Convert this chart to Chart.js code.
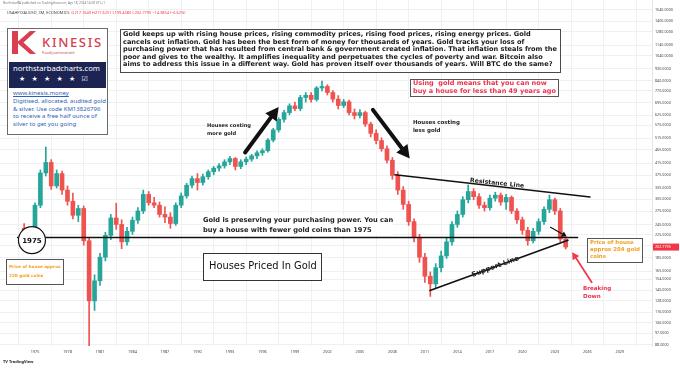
<!DOCTYPE html>
<html>
<head>
<meta charset="utf-8">
<title>Houses Priced In Gold</title>
<script src="https://cdn.jsdelivr.net/npm/chart.js@4.4.1/dist/chart.umd.min.js"></script>
<style>
  html, body { margin: 0; padding: 0; background: #fff; }
  #wrap { position: relative; width: 680px; height: 368px; overflow: hidden; }
  #chart { position: absolute; left: 0; top: 0; }
  .lbl { position: absolute; white-space: pre; display: inline-block; }
  .frame { position: absolute; background: #fff; box-sizing: border-box; }
  .note { font-family: "DejaVu Sans", sans-serif; font-weight: bold; }
</style>
</head>
<body>
<div id="wrap">
  <canvas id="chart" width="680" height="368"></canvas>

  <!-- header -->
  <div class="lbl" style="left:3px; top:1px; font:3.1px 'Noto Sans'; color:#777;">NorthstarRA published on TradingView.com, Apr 18, 2024 14:38 UTC+1</div>
  <div class="lbl" style="left:7px; top:10px; font:3.9px 'Noto Sans'; color:#444;">USAHP/XAUUSD, 3M, ECONOMICS  <span style="color:#f23645">O217.1649 H217.6251 L199.4380 C202.7795 −14.3854 (−6.62%)</span></div>

  <!-- sponsor box -->
  <div class="frame" style="left:7px; top:28px; width:101px; height:107px; border:1px solid #6b6b6b;"></div>
  <svg style="position:absolute; left:12px; top:31px;" width="24" height="23" viewBox="0 0 24 23">
    <path d="M0 0h6v23H0z M6 10.5 L18 0 H24 L11.5 11.5 L24 23 H18 L6 12.5 Z" fill="#d8404f"/>
  </svg>
  <div class="lbl" data-w="63" style="left:42px; top:36px; font:500 11px 'Noto Sans'; letter-spacing:1.6px; color:#d8404f; line-height:12px;">KINESIS</div>
  <div class="lbl" style="left:42px; top:51px; font:3px 'Noto Sans'; color:#c0404f;">Proudly partnered with</div>
  <div class="frame" style="left:9px; top:62px; width:97px; height:26px; background:#1b2452;"></div>
  <div class="lbl" data-w="87" style="left:13px; top:64px; font:7px 'Noto Sans'; color:#fff; line-height:9px;">northstarbadcharts.com</div>
  <div class="lbl" style="left:19px; top:75px; font:7px 'DejaVu Sans'; color:#fff; letter-spacing:6.2px; line-height:9px;">★★★★★☑</div>
  <div class="lbl" data-w="93" style="left:13px; top:90px; font:5.3px 'Noto Sans'; color:#2f5fb8; line-height:7.8px;"><span style="text-decoration:underline">www.kinesis.money</span>
Digitised, allocated, audited gold
&amp; silver. Use code KM13826796
to receive a free half ounce of
silver to get you going</div>

  <!-- main text -->
  <div class="frame" style="left:120px; top:29px; width:441px; height:44px; border:1.4px solid #4a4a4a;"></div>
  <div class="lbl note" data-w="435" style="left:123px; top:31px; font-size:6px; line-height:7.6px; color:#1a1a1a;">Gold keeps up with rising house prices, rising commodity prices, rising food prices, rising energy prices. Gold
cancels out inflation. Gold has been the best form of money for thousands of years. Gold tracks your loss of
purchasing power that has resulted from central bank &amp; government created inflation. That inflation steals from the
poor and gives to the wealthy. It amplifies inequality and perpetuates the cycles of poverty and war. Bitcoin also
aims to address this issue in a different way. Gold has proven itself over thousands of years. Will BTC do the same?</div>

  <div class="frame" style="left:410px; top:79px; width:149px; height:18px; border:1.2px solid #555;"></div>
  <div class="lbl note" data-w="143" style="left:413px; top:80px; font-size:6.4px; line-height:7.8px; color:#e8344e;">Using  gold means that you can now
buy a house for less than 49 years ago</div>

  <div class="lbl note" data-w="44" style="left:207px; top:121px; font-size:5.5px; line-height:8px; color:#222;">Houses costing
more gold</div>
  <div class="lbl note" data-w="47" style="left:413px; top:119px; font-size:5.5px; line-height:7.5px; color:#222;">Houses costing
less gold</div>

  <div class="lbl note" data-w="190" style="left:203px; top:215px; font-size:6.6px; line-height:10px; color:#222; background:#fff;">Gold is preserving your purchasing power. You can
buy a house with fewer gold coins than 1975</div>

  <div class="frame" style="left:203px; top:253px; width:119px; height:28px; border:1.2px solid #333;"></div>
  <div class="lbl" data-w="108" style="left:209px; top:259px; font:10px 'DejaVu Sans'; line-height:14px; color:#111;">Houses Priced In Gold</div>

  <div class="frame" style="left:6px; top:259px; width:58px; height:26px; border:1.2px solid #555;"></div>
  <div class="lbl note" data-w="52" style="left:9px; top:262px; font-size:5.5px; line-height:9px; color:#f0a020;">Price of house approx
220 gold coins</div>

  <div class="frame" style="left:587px; top:238px; width:56px; height:25px; border:1.2px solid #555;"></div>
  <div class="lbl note" data-w="50" style="left:590px; top:239px; font-size:5.5px; line-height:7.2px; color:#f0a020;">Price of house
approx 204 gold
coins</div>

  <div class="lbl note" style="left:583px; top:284px; font-size:5.6px; line-height:8px; color:#e8344e;">Breaking
Down</div>

  <div class="lbl note" data-w="55" style="left:470px; top:176px; font-size:6px; line-height:8px; color:#222; transform:rotate(6deg); transform-origin:left center;">Resistance Line</div>
  <div class="lbl note" data-w="50" style="left:472px; top:271px; font-size:7px; line-height:9px; color:#222; transform:rotate(-20deg); transform-origin:left center;">Support Line</div>

  <div class="lbl" style="left:3px; top:359px; font:bold 4px 'Noto Sans'; color:#222;">TV TradingView</div>
</div>

<script>
// half-yearly candles, ounces of gold per house
const years = [1974.0, 1974.5, 1975.0, 1975.5, 1976.0, 1976.5, 1977.0, 1977.5, 1978.0, 1978.5,
  1979.0, 1979.5, 1980.0, 1980.5, 1981.0, 1981.5, 1982.0, 1982.5, 1983.0, 1983.5,
  1984.0, 1984.5, 1985.0, 1985.5, 1986.0, 1986.5, 1987.0, 1987.5, 1988.0, 1988.5,
  1989.0, 1989.5, 1990.0, 1990.5, 1991.0, 1991.5, 1992.0, 1992.5, 1993.0, 1993.5,
  1994.0, 1994.5, 1995.0, 1995.5, 1996.0, 1996.5, 1997.0, 1997.5, 1998.0, 1998.5,
  1999.0, 1999.5, 2000.0, 2000.5, 2001.0, 2001.5, 2002.0, 2002.5, 2003.0, 2003.5,
  2004.0, 2004.5, 2005.0, 2005.5, 2006.0, 2006.5, 2007.0, 2007.5, 2008.0, 2008.5,
  2009.0, 2009.5, 2010.0, 2010.5, 2011.0, 2011.5, 2012.0, 2012.5, 2013.0, 2013.5,
  2014.0, 2014.5, 2015.0, 2015.5, 2016.0, 2016.5, 2017.0, 2017.5, 2018.0, 2018.5,
  2019.0, 2019.5, 2020.0, 2020.5, 2021.0, 2021.5, 2022.0, 2022.5, 2023.0, 2023.5,
  2024.0];
const opens = [238, 228, 220, 290, 382, 418, 342, 380, 330, 300,
  266, 282, 214, 128, 152, 186, 224, 260, 246, 212,
  232, 255, 276, 318, 296, 290, 268, 262, 248, 290,
  314, 344, 364, 352, 370, 386, 398, 406, 420, 432,
  404, 420, 430, 442, 454, 462, 506, 552, 604, 640,
  678, 662, 728, 742, 716, 790, 800, 760, 718, 680,
  702, 640, 624, 640, 580, 536, 504, 470, 426, 374,
  330, 292, 252, 220, 186, 158, 148, 170, 188, 212,
  246, 268, 304, 326, 312, 290, 284, 308, 316, 298,
  310, 276, 256, 234, 214, 232, 252, 280, 304, 276,
  217.1649];
const highs = [248, 234, 296, 392, 477, 428, 392, 388, 342, 322,
  290, 288, 220, 160, 192, 230, 268, 295, 256, 240,
  262, 284, 330, 326, 310, 298, 286, 272, 296, 322,
  350, 372, 380, 378, 392, 404, 414, 428, 440, 436,
  428, 438, 448, 462, 470, 512, 560, 612, 652, 690,
  700, 742, 760, 760, 800, 838, 812, 772, 740, 716,
  712, 660, 656, 648, 590, 552, 516, 482, 436, 386,
  340, 300, 258, 226, 192, 164, 176, 196, 220, 252,
  276, 312, 345, 334, 320, 298, 316, 324, 322, 318,
  314, 282, 262, 240, 238, 258, 286, 316, 308, 282,
  217.6251];
const lows = [226, 214, 216, 284, 372, 332, 336, 318, 290, 258,
  252, 206, 87, 118, 146, 180, 216, 236, 200, 206,
  226, 248, 270, 290, 284, 262, 250, 238, 244, 284,
  308, 336, 330, 344, 362, 376, 388, 398, 410, 392,
  396, 410, 422, 432, 444, 456, 498, 542, 590, 628,
  650, 650, 700, 700, 706, 770, 744, 700, 660, 668,
  628, 606, 612, 568, 520, 490, 460, 416, 362, 318,
  280, 244, 212, 178, 150, 133, 142, 164, 184, 206,
  240, 262, 296, 304, 282, 276, 278, 300, 290, 280,
  270, 248, 226, 206, 210, 226, 246, 272, 268, 212,
  199.438];
const closes = [228, 220, 290, 382, 418, 342, 380, 330, 300, 266,
  282, 214, 128, 152, 186, 224, 260, 246, 212, 232,
  255, 276, 318, 296, 290, 268, 262, 248, 290, 314,
  344, 364, 352, 370, 386, 398, 406, 420, 432, 404,
  420, 430, 442, 454, 462, 506, 552, 604, 640, 678,
  662, 728, 742, 716, 790, 800, 760, 718, 680, 702,
  640, 624, 640, 580, 536, 504, 470, 426, 374, 330,
  292, 252, 220, 186, 158, 148, 170, 188, 212, 246,
  268, 304, 326, 312, 290, 284, 308, 316, 298, 310,
  276, 256, 234, 214, 232, 252, 280, 304, 276, 217.1649,
  202.7795];

const xTicks = [1975, 1978, 1981, 1984, 1987, 1990, 1993, 1996, 1999, 2002,
  2005, 2008, 2011, 2014, 2017, 2020, 2023, 2026, 2029];
const yTicks = [1540, 1400, 1280, 1140, 1040, 930, 840, 770, 695, 625, 575, 515, 465,
  415, 375, 335, 305, 275, 245, 225, 205, 185, 165, 154, 140, 128, 116, 106, 97, 88];
const lastPrice = 202.7795;

// drawn guides, in (year, ounces)
const guides = {
  flat: [[1973.4, 220], [2025.1, 220]],
  resistance: [[2008.24, 376], [2026.25, 311]],
  support: [[2011.47, 140], [2024.21, 215]],
  upArrow: [[1994.4, 455], [1997.5, 672]],
  downArrow: [[2006.2, 655], [2009.6, 432]],
  smallArrow: [[2022.6, 240], [2024.1, 222]],
  redArrow: [[2026.4, 150], [2024.6, 194]],
  circle: [1974.72, 215]
};

const upColor = "#26a69a";
const downColor = "#ef5350";
const candleColors = closes.map((c, i) => (c >= opens[i] ? upColor : downColor));

function arrow(ctx, x1, y1, x2, y2, width, headLen, headHalf, color) {
  const a = Math.atan2(y2 - y1, x2 - x1);
  const bx = x2 - Math.cos(a) * headLen;
  const by = y2 - Math.sin(a) * headLen;
  ctx.strokeStyle = color;
  ctx.fillStyle = color;
  ctx.lineWidth = width;
  ctx.beginPath();
  ctx.moveTo(x1, y1);
  ctx.lineTo(bx, by);
  ctx.stroke();
  ctx.beginPath();
  ctx.moveTo(x2, y2);
  ctx.lineTo(bx + Math.sin(a) * headHalf, by - Math.cos(a) * headHalf);
  ctx.lineTo(bx - Math.sin(a) * headHalf, by + Math.cos(a) * headHalf);
  ctx.closePath();
  ctx.fill();
}

const guidePlugin = {
  id: "guides",
  afterDatasetsDraw(chart) {
    const ctx = chart.ctx;
    const xs = chart.scales.x, ys = chart.scales.y;
    const px = (p) => [xs.getPixelForValue(p[0]), ys.getPixelForValue(p[1])];
    ctx.save();
    ctx.lineCap = "round";

    const line = (seg, w) => {
      const a = px(seg[0]), b = px(seg[1]);
      ctx.strokeStyle = "#111";
      ctx.lineWidth = w;
      ctx.beginPath();
      ctx.moveTo(a[0], a[1]);
      ctx.lineTo(b[0], b[1]);
      ctx.stroke();
    };
    line(guides.flat, 1.6);
    line(guides.resistance, 1.4);
    line(guides.support, 1.6);

    let a = px(guides.upArrow[0]), b = px(guides.upArrow[1]);
    arrow(ctx, a[0], a[1], b[0], b[1], 4, 13, 7, "#111");
    a = px(guides.downArrow[0]); b = px(guides.downArrow[1]);
    arrow(ctx, a[0], a[1], b[0], b[1], 4, 13, 7, "#111");
    a = px(guides.smallArrow[0]); b = px(guides.smallArrow[1]);
    arrow(ctx, a[0], a[1], b[0], b[1], 1.2, 5, 3, "#111");
    a = px(guides.redArrow[0]); b = px(guides.redArrow[1]);
    arrow(ctx, a[0], a[1], b[0], b[1], 1.8, 7, 4, "#ef3b4e");

    const c = px(guides.circle);
    ctx.fillStyle = "#fff";
    ctx.strokeStyle = "#111";
    ctx.lineWidth = 1.2;
    ctx.beginPath();
    ctx.arc(c[0], c[1], 13.5, 0, Math.PI * 2);
    ctx.fill();
    ctx.stroke();
    ctx.fillStyle = "#111";
    ctx.font = "bold 7px 'DejaVu Sans'";
    ctx.textAlign = "center";
    ctx.textBaseline = "middle";
    ctx.fillText("1975", c[0], c[1] + 0.5);
    ctx.restore();
  },
  afterDraw(chart) {
    const ctx = chart.ctx;
    const y = chart.scales.y.getPixelForValue(lastPrice);
    const left = chart.chartArea.right + 1;
    ctx.save();
    ctx.fillStyle = "#f23645";
    ctx.fillRect(left, y - 3.5, 26, 7);
    ctx.fillStyle = "#fff";
    ctx.font = "3.7px 'Noto Sans'";
    ctx.textAlign = "left";
    ctx.textBaseline = "middle";
    ctx.fillText(lastPrice.toFixed(4), left + 2, y);
    ctx.restore();
  }
};

new Chart(document.getElementById("chart"), {
  type: "bar",
  data: {
    datasets: [
      {
        data: years.map((x, i) => ({ x: x, y: [lows[i], highs[i]] })),
        backgroundColor: candleColors,
        barThickness: 1,
        grouped: false,
        order: 2
      },
      {
        data: years.map((x, i) => ({ x: x, y: [opens[i], closes[i]] })),
        backgroundColor: candleColors,
        barThickness: 4,
        minBarLength: 1,
        grouped: false,
        order: 1
      }
    ]
  },
  options: {
    responsive: false,
    maintainAspectRatio: false,
    devicePixelRatio: 1,
    animation: false,
    layout: { padding: 0 },
    plugins: { legend: { display: false }, tooltip: { enabled: false } },
    scales: {
      x: {
        type: "linear",
        min: 1971.77,
        max: 2031.97,
        offset: false,
        grid: { color: "#eef0f4", drawTicks: false },
        border: { display: false },
        ticks: {
          autoSkip: false,
          maxRotation: 0,
          padding: 4,
          color: "#444",
          font: { size: 3.8, family: "Noto Sans" },
          callback: (v) => String(v)
        },
        afterBuildTicks: (s) => { s.ticks = xTicks.map((v) => ({ value: v })); },
        afterFit: (s) => { s.height = 22; s.paddingLeft = 0; s.paddingRight = 0; }
      },
      y: {
        type: "logarithmic",
        position: "right",
        min: 87.05,
        max: 1675.3,
        grid: { color: "#eef0f4", drawTicks: false },
        border: { display: true, color: "#e3e5ea" },
        ticks: {
          autoSkip: false,
          padding: 3,
          color: "#444",
          font: { size: 3.7, family: "Noto Sans" },
          callback: (v) => Number(v).toFixed(4)
        },
        afterBuildTicks: (s) => { s.ticks = yTicks.map((v) => ({ value: v })); },
        afterFit: (s) => { s.width = 28; s.paddingTop = 0; s.paddingBottom = 0; }
      }
    }
  },
  plugins: [guidePlugin]
});

// squeeze each text block to the width it takes in the picture
document.querySelectorAll("[data-w]").forEach((el) => {
  const target = parseFloat(el.dataset.w);
  const w = el.getBoundingClientRect().width;
  const fs = parseFloat(getComputedStyle(el).fontSize);
  if (w > 0) el.style.fontSize = (fs * target / w).toFixed(2) + "px";
});
</script>
</body>
</html>
